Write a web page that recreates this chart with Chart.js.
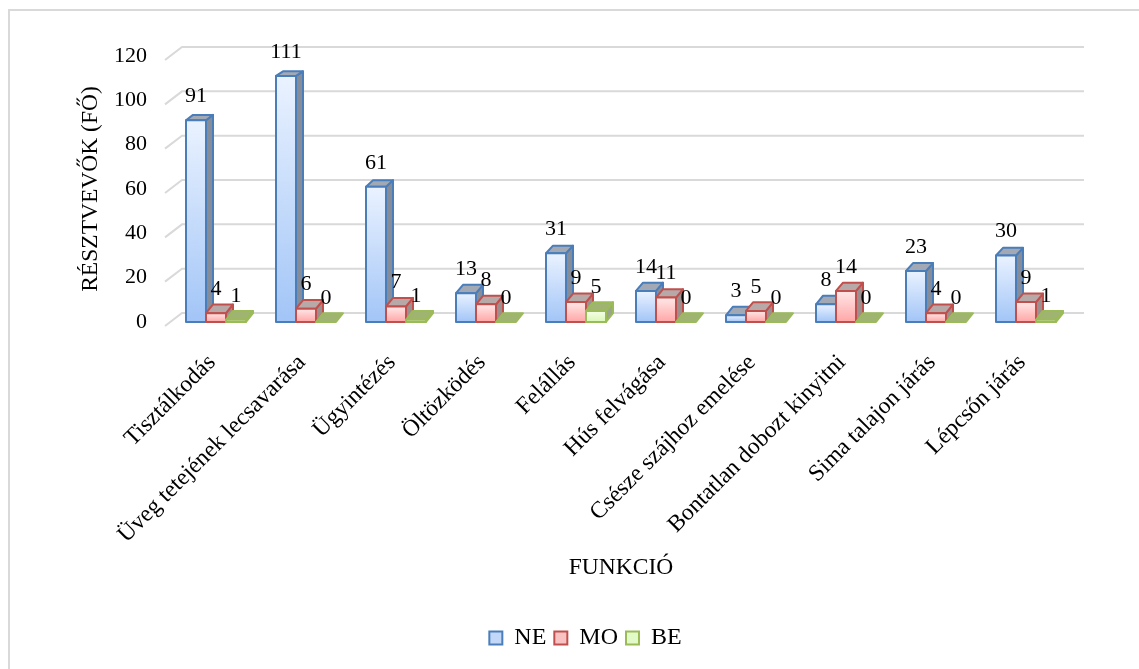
<!DOCTYPE html>
<html>
<head>
<meta charset="utf-8">
<script src="https://cdn.jsdelivr.net/npm/chart.js@4"></script>
<style>
  html, body { margin: 0; padding: 0; background: #fff; overflow: hidden; }
  #wrap { position: relative; width: 1139px; height: 669px; }
  #frame { position: absolute; left: 8px; top: 9px; width: 1200px; height: 700px;
           border-left: 2px solid #d9d9d9; border-top: 2px solid #d9d9d9; }
  canvas { position: absolute; left: 0; top: 0; }
</style>
</head>
<body>
<div id="wrap">
  <div id="frame"></div>
  <canvas id="chart" width="1139" height="669"></canvas>
</div>
<script>
// Functions and participant counts per answer group
const categories = [
  'Tisztálkodás',
  'Üveg tetejének lecsavarása',
  'Ügyintézés',
  'Öltözködés',
  'Felállás',
  'Hús felvágása',
  'Csésze szájhoz emelése',
  'Bontatlan dobozt kinyitni',
  'Sima talajon járás',
  'Lépcsőn járás'
];
const neValues = [91, 111, 61, 13, 31, 14, 3, 8, 23, 30];
const moValues = [4, 6, 7, 8, 9, 11, 5, 14, 4, 9];
const beValues = [1, 0, 1, 0, 5, 0, 0, 0, 0, 1];
const seriesNames = ['NE', 'MO', 'BE'];
const yMin = 0, yMax = 120, yStep = 20;

// Face colours of the pseudo-3D columns
const styles = [
  { border: '#4a7ebb', light: '#eaf2ff', dark: '#a2c5f7', side: '#858d9b', top: '#a3a9b4', legend: '#c3d8f8' },
  { border: '#c0504d', light: '#ffe8e8', dark: '#ffa6a6', side: '#9e8f8f', top: '#b8a9a9', legend: '#f9c3c3' },
  { border: '#9bbb59', light: '#f6ffea', dark: '#d9f7b4', side: '#9aa68a', top: '#9fb470', legend: '#e2f9c8' }
];

const DEPTH_X = 7;
function depthY(y) { return -(4.2 + (y - 50) * 0.017); }

const FONT = "'Liberation Serif', 'Times New Roman', serif";
Chart.defaults.font.family = FONT;
Chart.defaults.font.size = 22;
Chart.defaults.color = '#000';

const columns3d = {
  id: 'columns3d',
  beforeDatasetsDraw(chart) {
    // back wall gridlines with short floor diagonals on the left
    const { ctx, chartArea: { left, right }, scales: { y } } = chart;
    ctx.save();
    ctx.strokeStyle = '#d9d9d9';
    ctx.lineWidth = 2;
    y.ticks.forEach(t => {
      const yf = y.getPixelForValue(t.value);
      ctx.beginPath();
      ctx.moveTo(left - 6, yf + 4);
      ctx.lineTo(left + 11, yf - 9);
      ctx.lineTo(right + 13, yf - 9);
      ctx.stroke();
    });
    ctx.restore();
  },
  afterDatasetsDraw(chart) {
    const ctx = chart.ctx;
    const metas = chart.data.datasets.map((d, i) => chart.getDatasetMeta(i));
    ctx.save();
    ctx.lineJoin = 'round';
    ctx.lineWidth = 2;
    for (let j = 0; j < categories.length; j++) {
      metas.forEach((meta, i) => {
        const el = meta.data[j];
        const st = styles[i];
        const { x, y, base, width } = el.getProps(['x', 'y', 'base', 'width'], true);
        const x0 = x - width / 2, x1 = x + width / 2;
        const dyT = depthY(y), dyB = depthY(base);
        ctx.strokeStyle = st.border;
        // side face
        if (base - y > 0.5) {
          ctx.beginPath();
          ctx.moveTo(x1, y);
          ctx.lineTo(x1 + DEPTH_X, y + dyT);
          ctx.lineTo(x1 + DEPTH_X, base + dyB);
          ctx.lineTo(x1, base);
          ctx.closePath();
          ctx.fillStyle = st.side;
          ctx.fill();
          ctx.stroke();
        }
        // top face
        ctx.beginPath();
        ctx.moveTo(x0, y);
        ctx.lineTo(x1, y);
        ctx.lineTo(x1 + DEPTH_X, y + dyT);
        ctx.lineTo(x0 + DEPTH_X, y + dyT);
        ctx.closePath();
        ctx.fillStyle = st.top;
        ctx.fill();
        ctx.stroke();
        // front face
        if (base - y > 0.5) {
          const g = ctx.createLinearGradient(0, y, 0, base);
          g.addColorStop(0, st.light);
          g.addColorStop(1, st.dark);
          ctx.fillStyle = g;
          ctx.fillRect(x0, y, width, base - y);
          ctx.strokeRect(x0, y, width, base - y);
        }
      });
    }
    // value labels
    ctx.fillStyle = '#000';
    ctx.font = '22px ' + FONT;
    ctx.textAlign = 'center';
    ctx.textBaseline = 'middle';
    metas.forEach((meta, i) => {
      const values = chart.data.datasets[i].data;
      meta.data.forEach((el, j) => {
        const { x, y } = el.getProps(['x', 'y'], true);
        ctx.fillText(String(values[j]), x, y - 24);
      });
    });
    ctx.restore();
  }
};

new Chart(document.getElementById('chart'), {
  type: 'bar',
  data: {
    labels: categories,
    datasets: [neValues, moValues, beValues].map((vals, i) => ({
      label: seriesNames[i],
      data: vals,
      backgroundColor: 'rgba(0,0,0,0)',
      borderWidth: 0,
      categoryPercentage: 2 / 3,
      barPercentage: 1
    }))
  },
  options: {
    responsive: false,
    animation: false,
    layout: { padding: { left: 100, right: 68, top: 56, bottom: 9 } },
    plugins: {
      tooltip: { enabled: false },
      legend: {
        position: 'bottom',
        labels: {
          boxWidth: 13,
          boxHeight: 13,
          padding: 8,
          font: { size: 24, family: FONT },
          generateLabels: (chart) => chart.data.datasets.map((d, i) => ({
            text: d.label,
            fillStyle: styles[i].legend,
            strokeStyle: styles[i].border,
            lineWidth: 2,
            fontColor: '#000',
            hidden: false,
            datasetIndex: i
          }))
        }
      }
    },
    scales: {
      x: {
        grid: { display: false },
        border: { display: false },
        ticks: { autoSkip: false, maxRotation: 45, minRotation: 45, padding: 19, labelOffset: -4, font: { size: 23.5 } },
        title: { display: true, text: 'FUNKCIÓ', font: { size: 23.5 }, padding: { top: 0, bottom: 36 } },
        afterFit: (s) => { s.height = 296; }
      },
      y: {
        min: yMin,
        max: yMax,
        grid: { display: false, drawTicks: false },
        border: { display: false },
        ticks: { stepSize: yStep, padding: 24, font: { size: 22 } },
        title: { display: true, text: 'RÉSZTVEVŐK (FŐ)', font: { size: 23.5 }, padding: { top: -23, bottom: 0 } },
        afterFit: (s) => { s.width = 71; }
      }
    }
  },
  plugins: [columns3d]
});
</script>
</body>
</html>
